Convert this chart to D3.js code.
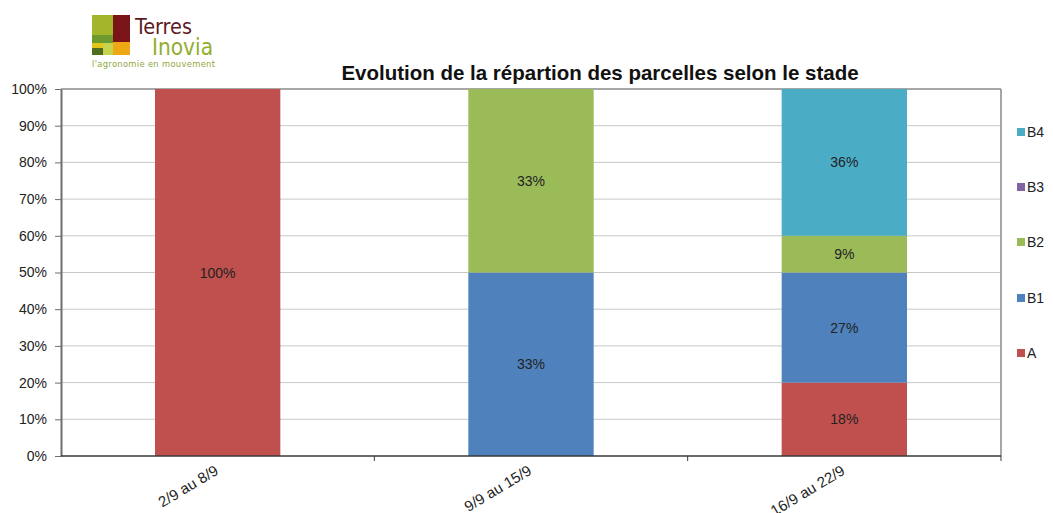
<!DOCTYPE html>
<html><head><meta charset="utf-8">
<script src="https://cdn.jsdelivr.net/npm/d3@7"></script>
<style>body{margin:0;background:#fff}svg{display:block}</style>
</head><body>
<svg id="c" width="1053" height="513"></svg>
<script>
const categories = ["2/9 au 8/9", "9/9 au 15/9", "16/9 au 22/9"];
const seriesNames = ["A", "B1", "B2", "B3", "B4"];
const valuesA  = [100, 0, 20];
const valuesB1 = [0, 50, 30];
const valuesB2 = [0, 50, 10];
const valuesB3 = [0, 0, 0];
const valuesB4 = [0, 0, 40];
const labelsA  = ["100%", "", "18%"];
const labelsB1 = ["", "33%", "27%"];
const labelsB2 = ["", "33%", "9%"];
const labelsB3 = ["", "", ""];
const labelsB4 = ["", "", "36%"];
const yTicks = [0, 10, 20, 30, 40, 50, 60, 70, 80, 90, 100];
const colors = ["#C0504D", "#4F81BD", "#9BBB59", "#8064A2", "#4BACC6"];
const title = "Evolution de la répartion des parcelles selon le stade";

const allValues = [valuesA, valuesB1, valuesB2, valuesB3, valuesB4];
const allLabels = [labelsA, labelsB1, labelsB2, labelsB3, labelsB4];

const svg = d3.select("#c");
const L = 61, R = 1001, T = 89, B = 456;
const font = "Liberation Sans, Arial, sans-serif";

// logo
const lg = svg.append("g");
[[92,15,21,20,"#a3b52b"],[113,15,17,27,"#7a1418"],[92,35,21,8,"#6c9a2e"],
 [92,43,11,5,"#e3c51a"],[92,48,11,7,"#4d6d1f"],[103,43,10,12,"#c6d34c"],[113,42,17,13,"#efa815"]]
 .forEach(r => lg.append("rect").attr("x",r[0]).attr("y",r[1]).attr("width",r[2]).attr("height",r[3]).attr("fill",r[4]));
lg.append("text").attr("x",135).attr("y",34).attr("font-family","DejaVu Sans Condensed, DejaVu Sans, sans-serif").attr("font-size",22).attr("fill","#5b1a22").attr("textLength",57).attr("lengthAdjust","spacingAndGlyphs").text("Terres");
lg.append("text").attr("x",152).attr("y",55).attr("font-family","DejaVu Sans Condensed, DejaVu Sans, sans-serif").attr("font-size",23).attr("fill","#90ae2c").attr("textLength",61).attr("lengthAdjust","spacingAndGlyphs").text("Inovia");
lg.append("text").attr("x",92).attr("y",67).attr("font-family","DejaVu Sans, sans-serif").attr("font-size",8.4).attr("fill","#8ea73c").attr("textLength",123).text("l'agronomie en mouvement");

// title
svg.append("text").attr("x",600).attr("y",80).attr("text-anchor","middle")
  .attr("font-family",font).attr("font-weight","bold").attr("font-size",20.5).attr("fill","#111").text(title);

const x = d3.scaleBand().domain(categories).range([L, R]).paddingInner(0.6).paddingOuter(0.3);
const y = d3.scaleLinear().domain([0, 100]).range([B, T]);

// gridlines
svg.append("g").selectAll("line").data(yTicks.filter(t => t > 0 && t < 100)).join("line")
  .attr("x1", L).attr("x2", R).attr("y1", d => y(d)).attr("y2", d => y(d))
  .attr("stroke", "#c8c8c8").attr("stroke-width", 1);
// plot border top & right
svg.append("line").attr("x1",L).attr("x2",R).attr("y1",y(100)).attr("y2",y(100)).attr("stroke","#8a8a8a").attr("stroke-width",1.5);
svg.append("line").attr("x1",R).attr("x2",R).attr("y1",T).attr("y2",B).attr("stroke","#8a8a8a").attr("stroke-width",1.5);

// stacked data
const rows = categories.map((c, i) => {
  const o = { cat: c };
  seriesNames.forEach((s, j) => o[s] = allValues[j][i]);
  return o;
});
const stack = d3.stack().keys(seriesNames)(rows);

const gBars = svg.append("g");
stack.forEach((layer, j) => {
  gBars.append("g").attr("fill", colors[j]).selectAll("rect").data(layer).join("rect")
    .attr("x", d => x(d.data.cat)).attr("width", x.bandwidth())
    .attr("y", d => y(d[1])).attr("height", d => y(d[0]) - y(d[1]));
});
stack.forEach((layer, j) => {
  gBars.append("g").selectAll("text").data(layer.map((d, i) => ({d, lab: allLabels[j][i]})).filter(e => e.lab))
    .join("text")
    .attr("x", e => x(e.d.data.cat) + x.bandwidth() / 2)
    .attr("y", e => (y(e.d[0]) + y(e.d[1])) / 2)
    .attr("dy", "0.36em").attr("text-anchor", "middle")
    .attr("font-family", font).attr("font-size", 14).attr("fill", "#222")
    .text(e => e.lab);
});

// y axis
const ya = svg.append("g").attr("transform", `translate(${L},0)`)
  .call(d3.axisLeft(y).tickValues(yTicks).tickSize(6).tickSizeOuter(0).tickFormat(d => d + "%"));
ya.select(".domain").attr("stroke", "#6e6e6e").attr("stroke-width", 2);
ya.selectAll(".tick line").attr("stroke", "#6e6e6e");
ya.selectAll("text").attr("font-family", font).attr("font-size", 14).attr("fill", "#222").attr("x", -14);

// x axis
const xa = svg.append("g").attr("transform", `translate(0,${B})`);
xa.append("line").attr("x1", L).attr("x2", R).attr("stroke", "#3a3a3a").attr("stroke-width", 1.5);
const step = x.step();
xa.selectAll("line.tk").data(categories).join("line").attr("class","tk")
  .attr("x1", d => x(d) + x.bandwidth()/2 + step/2).attr("x2", d => x(d) + x.bandwidth()/2 + step/2)
  .attr("y1", 0).attr("y2", 5).attr("stroke", "#3a3a3a");
xa.selectAll("text").data(categories).join("text")
  .attr("transform", d => `translate(${x(d) + x.bandwidth()/2 - 1},${13}) rotate(-31)`)
  .attr("text-anchor", "end").attr("dy", "0.35em")
  .attr("font-family", font).attr("font-size", 15).attr("fill", "#222")
  .text(d => d);

// legend
const legendY = [353, 298, 242, 187, 132];
const lgd = svg.append("g");
seriesNames.forEach((s, j) => {
  lgd.append("rect").attr("x", 1017).attr("y", legendY[j] - 4).attr("width", 8).attr("height", 8).attr("fill", colors[j]);
  lgd.append("text").attr("x", 1027).attr("y", legendY[j]).attr("dy", "0.36em")
    .attr("font-family", font).attr("font-size", 14).attr("fill", "#222").text(s);
});
</script>
</body></html>
